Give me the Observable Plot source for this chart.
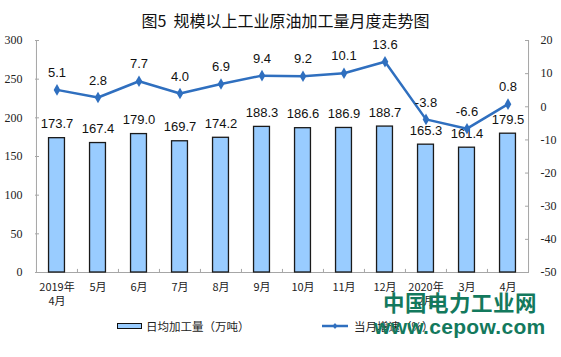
<!DOCTYPE html>
<html><head><meta charset="utf-8">
<script src="https://cdn.jsdelivr.net/npm/d3@7"></script>
<script src="https://cdn.jsdelivr.net/npm/@observablehq/plot@0.6"></script>
<style>
body{margin:0;background:#fff;}
#wrap{position:relative;width:561px;height:357px;overflow:hidden;background:#fff;font-family:"Noto Sans CJK SC",sans-serif;}
#title{position:absolute;left:10px;top:9px;width:551px;text-align:center;font-size:16px;line-height:22px;color:#111;}
#chart{position:absolute;left:0;top:32px;}
.lg{position:absolute;font-size:11.5px;line-height:14px;color:#222;white-space:nowrap;}
.wm{position:absolute;font-weight:bold;color:#13795d;white-space:nowrap;}
</style></head>
<body><div id="wrap">
<div id="title">图5&nbsp;&nbsp;规模以上工业原油加工量月度走势图</div>
<div id="chart"></div>
<div style="position:absolute;left:117px;top:323px;width:23px;height:4px;background:#99CCFF;border:1.5px solid #111;"></div>
<div class="lg" style="left:146px;top:319px;">日均加工量（万吨）</div>
<svg style="position:absolute;left:322px;top:320px;" width="30" height="12"><line x1="0" y1="6" x2="26" y2="6" stroke="#2f6fbf" stroke-width="2.5"/><path d="M13,3 L15.5,6 L13,9 L10.5,6Z" fill="#2f6fbf"/></svg>
<div class="lg" style="left:354px;top:319px;">当月增速（%）</div>
<div class="wm" style="left:383px;top:288px;font-size:21.5px;line-height:28px;letter-spacing:0.5px;">中国电力工业网</div>
<div class="wm" style="left:374px;top:314px;font-size:21px;line-height:26px;letter-spacing:0.3px;font-family:'Liberation Sans',Arial,sans-serif;">www.cepow.com</div>
</div>
<script>
const categories = ["2019年\n4月","5月","6月","7月","8月","9月","10月","11月","12月","2020年\n2月","3月","4月"];
const output = [173.7,167.4,179.0,169.7,174.2,188.3,186.6,186.9,188.7,165.3,161.4,179.5];
const growth = [5.1,2.8,7.7,4.0,6.9,9.4,9.2,10.1,13.6,-3.8,-6.6,0.8];
const leftTicks = [0,50,100,150,200,250,300];
const rightTicks = [-50,-40,-30,-20,-10,0,10,20];

const rMin = -50, rMax = 20, lMax = 300;
const toLeft = v => (v - rMin) * lMax / (rMax - rMin);
const fromLeft = v => Math.round(v * (rMax - rMin) / lMax + rMin);

const data = categories.map((c, i) => ({c, out: output[i], g: growth[i], gy: toLeft(growth[i])}));

const W = 561, H = 275, mL = 35, mR = 33, mT = 8, mB = 35;
const bw = (W - mL - mR) / categories.length;
const lineColor = "#2f6fbf";
const axisColor = "#a6a6a6";

const chart = Plot.plot({
  width: W, height: H,
  marginLeft: mL, marginRight: mR, marginTop: mT, marginBottom: mB,
  style: {background: "transparent", overflow: "visible"},
  x: {type: "band", domain: categories, padding: 0, label: null},
  y: {domain: [0, lMax], label: null},
  marks: [
    Plot.ruleY([0], {stroke: axisColor}),
    Plot.ruleX([categories[0]], {y1: 0, y2: lMax, dx: -bw / 2, stroke: axisColor}),
    Plot.ruleX([categories[categories.length - 1]], {y1: 0, y2: lMax, dx: bw / 2, stroke: axisColor}),
    Plot.ruleX(categories.slice(1), {x: d => d, y1: 0, y2: 4, dx: -bw / 2, stroke: axisColor}),
    Plot.axisY({anchor: "left", ticks: leftTicks, tickSize: -4, tickFormat: () => "", stroke: axisColor, label: null}),
    Plot.axisY({anchor: "left", ticks: leftTicks, tickSize: 0, tickPadding: 13, fontSize: 12, fontFamily: "Liberation Serif", fill: "#222", label: null}),
    Plot.axisY({anchor: "right", ticks: rightTicks.map(toLeft), tickSize: -4, tickFormat: () => "", stroke: axisColor, label: null}),
    Plot.axisY({anchor: "right", ticks: rightTicks.map(toLeft), tickFormat: fromLeft, tickSize: 0, tickPadding: 12, fontSize: 12, fontFamily: "Liberation Serif", fill: "#222", label: null}),
    Plot.axisX({tickSize: 0, tickPadding: 9, fontSize: 11, fontFamily: "Noto Sans CJK SC", fill: "#222", lineHeight: 1.25, label: null}),
    Plot.barY(data, {x: "c", y: "out", fill: "#99CCFF", stroke: "#1a1a1a", strokeWidth: 1.3, insetLeft: (bw - 16) / 2, insetRight: (bw - 16) / 2}),
    Plot.text(data, {x: "c", y: "out", text: d => d.out.toFixed(1), dy: -14, fontSize: 13, fontFamily: "Liberation Sans", fill: "#111"}),
    Plot.line(data, {x: "c", y: "gy", stroke: lineColor, strokeWidth: 2.5}),
    Plot.dot(data, {x: "c", y: "gy", symbol: "diamond", r: 3.5, fill: lineColor, stroke: null}),
    Plot.text(data, {x: "c", y: "gy", text: d => d.g.toFixed(1), dy: -17, fontSize: 13, fontFamily: "Liberation Sans", fill: "#111"})
  ]
});
document.getElementById("chart").appendChild(chart);
</script>
</body></html>
